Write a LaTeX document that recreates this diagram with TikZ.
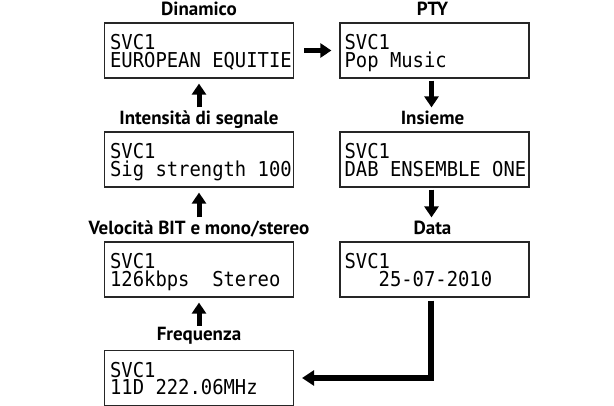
\documentclass[tikz,border=0pt]{standalone}
\usepackage{fontspec}
\usetikzlibrary{arrows.meta,calc}
\newfontfamily\lcd[FakeStretch=0.92]{DejaVu Sans Mono}
\newfontfamily\labfont{PT Sans}
\begin{document}
\begin{tikzpicture}[x=1pt,y=-1pt,
  lcdbox/.style={draw=black!85, line width=1.2pt, minimum width=189pt, minimum height=55pt, inner sep=0pt},
  lcdtext/.style={anchor=north west, inner sep=0pt, align=left, font={\lcd\fontsize{20.5}{17.5}\selectfont\lineskiplimit=-20pt}},
  lab/.style={anchor=base, inner sep=0pt, font={\labfont\bfseries\fontsize{19}{22}\selectfont}},
  bigarrow/.style={line width=5pt, -{Triangle[width=14pt,length=11pt]}},
  bigline/.style={line width=6pt, -{Triangle[width=15pt,length=12pt]}}]
\useasboundingbox (0,0) rectangle (614,406);
% boxes
\node[lcdbox] (b1) at (199,50.5) {};
\node[lcdbox] (p1) at (434.5,50.5) {};
\node[lcdbox] (b2) at (199,159.5) {};
\node[lcdbox] (p2) at (434.5,159.5) {};
\node[lcdbox] (b3) at (199,269.5) {};
\node[lcdbox] (p3) at (434.5,269.5) {};
\node[lcdbox] (b4) at (199,378) {};
% texts
\node[lcdtext] (t1) at ($(b1.north west)+(6,12)$) {SVC1\\EUROPEAN EQUITIE};
\node[lcdtext] (u1) at ($(p1.north west)+(5,12)$) {SVC1\\Pop Music};
\node[lcdtext] (t2) at ($(b2.north west)+(6,12)$) {SVC1\\Sig strength 100};
\node[lcdtext] (u2) at ($(p2.north west)+(5,12)$) {SVC1\\DAB ENSEMBLE ONE};
\node[lcdtext] (t3) at ($(b3.north west)+(6,12)$) {SVC1\\126kbps\ \ Stereo};
\node[lcdtext] (u3) at ($(p3.north west)+(5,12)$) {SVC1\\\ \ \ 25-07-2010};
\node[lcdtext] (t4) at ($(b4.north west)+(6,12)$) {SVC1\\11D 222.06MHz};
% labels
\node[lab] (l1) at ($(b1.north)+(0,-7)$) {Dinamico};
\node[lab] (m1) at ($(p1.north)+(-2,-7)$) {PTY};
\node[lab] (l2) at ($(b2.north)+(0,-7)$) {Intensità di segnale};
\node[lab] (m2) at ($(p2.north)+(-2,-7)$) {Insieme};
\node[lab] (l3) at ($(b3.north)+(0,-7)$) {Velocità BIT e mono/stereo};
\node[lab] (m3) at ($(p3.north)+(-2,-7)$) {Data};
\node[lab] (l4) at ($(b4.north)+(0,-9)$) {Frequenza};
% arrows
\draw[bigarrow, shorten <=10pt, shorten >=8pt] (b1.east) -- (p1.west);
\draw[bigarrow, shorten <=2pt, shorten >=24pt] ([xshift=-3pt]p1.south) -- ([xshift=-3pt]p2.north);
\draw[bigarrow, shorten <=2pt, shorten >=24pt] ([xshift=-3pt]p2.south) -- ([xshift=-3pt]p3.north);
\draw[bigarrow, shorten <=24pt, shorten >=5pt] (b2.north) -- (b1.south);
\draw[bigarrow, shorten <=24pt, shorten >=5pt] (b3.north) -- (b2.south);
\draw[bigarrow, shorten <=24pt, shorten >=5pt] (b4.north) -- (b3.south);
\draw[bigline, shorten >=8pt] ([xshift=-4pt,yshift=-3pt]p3.south) |- (b4.east);
\end{tikzpicture}
\end{document}
